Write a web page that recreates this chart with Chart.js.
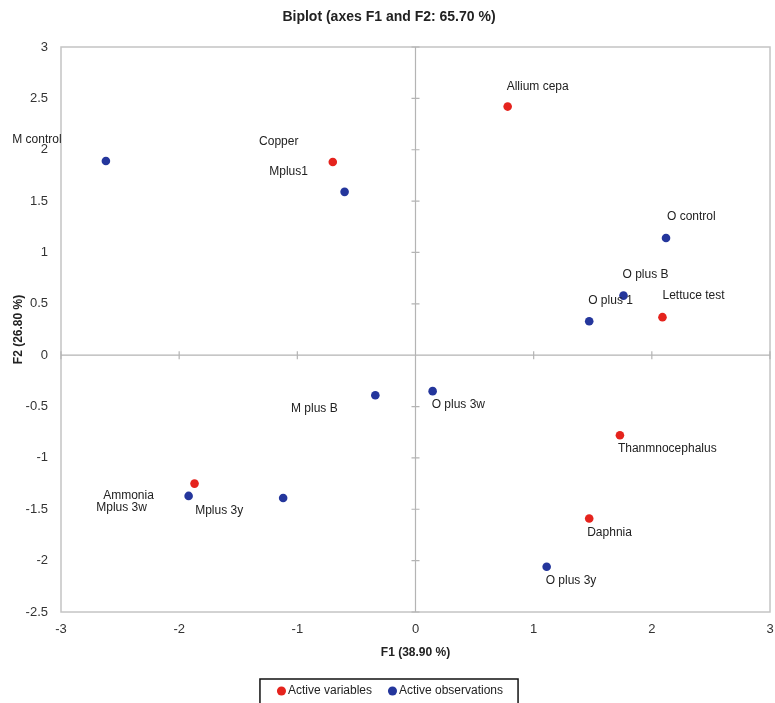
<!DOCTYPE html>
<html lang="en">
<head>
<meta charset="UTF-8">
<title>Biplot</title>
<script src="https://cdn.jsdelivr.net/npm/chart.js"></script>
<style>
    body { margin: 0; background: #fff; }
</style>
</head>
<body>
<canvas id="biplot" width="775" height="703"></canvas>

<script>
    // active variables (red)
    var variableNames = ['Copper', 'Allium cepa', 'Lettuce test', 'Ammonia', 'Thanmnocephalus', 'Daphnia'];
    var variableF1 = [-0.70, 0.78, 2.09, -1.87, 1.73, 1.47];
    var variableF2 = [1.88, 2.42, 0.37, -1.25, -0.78, -1.59];

    // active observations (blue)
    var observationNames = ['M control', 'Mplus1', 'O control', 'O plus B', 'O plus 1', 'M plus B',
        'Mplus 3w', 'Mplus 3y', 'O plus 3w', 'O plus 3y'];
    var observationF1 = [-2.62, -0.60, 2.12, 1.76, 1.47, -0.34, -1.92, -1.12, 0.145, 1.11];
    var observationF2 = [1.89, 1.59, 1.14, 0.58, 0.33, -0.39, -1.37, -1.39, -0.35, -2.06];

    var xRange = [-3, 3];
    var yRange = [-2.5, 3];

    // where each point label sits relative to its marker: [dx, dy, align]
    var labelPlacement = {
        'Copper': [-54, -20, 'center'],
        'Allium cepa': [-1, -20, 'left'],
        'Lettuce test': [0, -21, 'left'],
        'Ammonia': [-66, 12, 'center'],
        'Thanmnocephalus': [-2, 13, 'left'],
        'Daphnia': [-2, 14, 'left'],
        'M control': [-69, -21, 'center'],
        'Mplus1': [-56, -20, 'center'],
        'O control': [1, -21, 'left'],
        'O plus B': [-1, -21, 'left'],
        'O plus 1': [-1, -21, 'left'],
        'M plus B': [-61, 13, 'center'],
        'Mplus 3w': [-67, 12, 'center'],
        'Mplus 3y': [-64, 13, 'center'],
        'O plus 3w': [-1, 14, 'left'],
        'O plus 3y': [-1, 14, 'left']
    };

    var FONT = "'Liberation Sans', Arial, sans-serif";

    function toPoints(xs, ys) {
        return xs.map(function (x, i) { return {x: x, y: ys[i]}; });
    }

    function plainNumber(value) {
        return String(value);
    }

    var frameAndLabels = {
        id: 'frameAndLabels',
        beforeInit: function (chart) {
            // fixed legend height so the plot area keeps its size
            var fit = chart.legend.fit;
            chart.legend.fit = function () {
                fit.call(this);
                this.height = 38;
            };
        },
        afterLayout: function (chart) {
            // nudge title and legend a little to the right, like the original
            chart.legend.left += 7;
            chart.legend.right += 7;
            chart.titleBlock.left += 4;
            chart.titleBlock.right += 4;
        },
        beforeDatasetsDraw: function (chart) {
            var ctx = chart.ctx, a = chart.chartArea;
            var xs = chart.scales.x, ys = chart.scales.y;
            var x0 = xs.getPixelForValue(0), y0 = ys.getPixelForValue(0);
            ctx.save();
            ctx.strokeStyle = '#c4c4c4';
            ctx.lineWidth = 1.5;
            ctx.strokeRect(a.left, a.top, a.right - a.left, a.bottom - a.top);
            ctx.strokeStyle = '#b4b4b4';
            ctx.lineWidth = 1.2;
            ctx.beginPath();
            ctx.moveTo(x0, a.top); ctx.lineTo(x0, a.bottom);
            ctx.moveTo(a.left, y0); ctx.lineTo(a.right, y0);
            ys.ticks.forEach(function (t) {
                var p = ys.getPixelForValue(t.value);
                ctx.moveTo(x0 - 4, p); ctx.lineTo(x0 + 4, p);
            });
            xs.ticks.forEach(function (t) {
                var p = xs.getPixelForValue(t.value);
                ctx.moveTo(p, y0 - 4); ctx.lineTo(p, y0 + 4);
            });
            ctx.stroke();
            ctx.restore();
        },
        afterDatasetsDraw: function (chart) {
            var ctx = chart.ctx;
            ctx.save();
            ctx.font = '12px ' + FONT;
            ctx.fillStyle = '#222';
            ctx.textBaseline = 'middle';
            chart.data.datasets.forEach(function (ds, di) {
                var meta = chart.getDatasetMeta(di);
                ds.names.forEach(function (name, i) {
                    var el = meta.data[i], pl = labelPlacement[name];
                    ctx.textAlign = pl[2];
                    ctx.fillText(name, el.x + pl[0], el.y + pl[1]);
                });
            });
            ctx.restore();
        },
        afterDraw: function (chart) {
            var boxes = chart.legend.legendHitBoxes;
            if (!boxes || !boxes.length) return;
            var first = boxes[0], last = boxes[boxes.length - 1];
            var cy = first.top + first.height / 2;
            var ctx = chart.ctx;
            ctx.save();
            ctx.strokeStyle = '#111';
            ctx.lineWidth = 1.5;
            ctx.strokeRect(first.left - 21, cy - 12, last.left + last.width + 36 - first.left, 26);
            ctx.restore();
        }
    };

    var ctx = document.getElementById('biplot').getContext('2d');
    var biplot = new Chart(ctx, {
        type: 'scatter',
        data: {
            datasets: [{
                label: 'Active variables',
                names: variableNames,
                data: toPoints(variableF1, variableF2),
                backgroundColor: '#e5231d',
                borderColor: '#e5231d',
                borderWidth: 0,
                pointRadius: 4.3,
                pointHoverRadius: 4.3
            }, {
                label: 'Active observations',
                names: observationNames,
                data: toPoints(observationF1, observationF2),
                backgroundColor: '#24369c',
                borderColor: '#24369c',
                borderWidth: 0,
                pointRadius: 4.3,
                pointHoverRadius: 4.3
            }]
        },
        options: {
            responsive: false,
            animation: false,
            layout: {padding: {left: 0, right: 5, top: 0, bottom: 0}},
            scales: {
                x: {
                    min: xRange[0],
                    max: xRange[1],
                    ticks: {stepSize: 1, padding: 10, color: '#333', font: {family: FONT, size: 13}, callback: plainNumber},
                    grid: {display: false, drawTicks: false},
                    border: {display: false},
                    title: {
                        display: true,
                        text: 'F1 (38.90 %)',
                        color: '#222',
                        font: {family: FONT, size: 12, weight: 'bold'},
                        padding: {top: 0, bottom: 5}
                    },
                    afterFit: function (s) {
                        s.height = 53;
                        s.paddingLeft = 0;
                        s.paddingRight = 0;
                    }
                },
                y: {
                    min: yRange[0],
                    max: yRange[1],
                    ticks: {stepSize: 0.5, padding: 13, color: '#333', font: {family: FONT, size: 13}, callback: plainNumber},
                    grid: {display: false, drawTicks: false},
                    border: {display: false},
                    title: {
                        display: true,
                        text: 'F2 (26.80 %)',
                        color: '#222',
                        font: {family: FONT, size: 12, weight: 'bold'},
                        padding: {top: 11, bottom: 0}
                    },
                    afterFit: function (s) {
                        s.width = 61;
                        s.paddingTop = 0;
                        s.paddingBottom = 0;
                    }
                }
            },
            plugins: {
                title: {
                    display: true,
                    text: 'Biplot (axes F1 and F2: 65.70 %)',
                    color: '#222',
                    font: {family: FONT, size: 14, weight: 'bold'},
                    padding: {top: 8.6, bottom: 21.6}
                },
                legend: {
                    position: 'bottom',
                    labels: {
                        usePointStyle: true,
                        pointStyle: 'circle',
                        boxWidth: 1,
                        boxHeight: 6.4,
                        padding: 20,
                        color: '#222',
                        font: {family: FONT, size: 12}
                    }
                },
                tooltip: {enabled: false}
            }
        },
        plugins: [frameAndLabels]
    });
</script>
</body>
</html>
